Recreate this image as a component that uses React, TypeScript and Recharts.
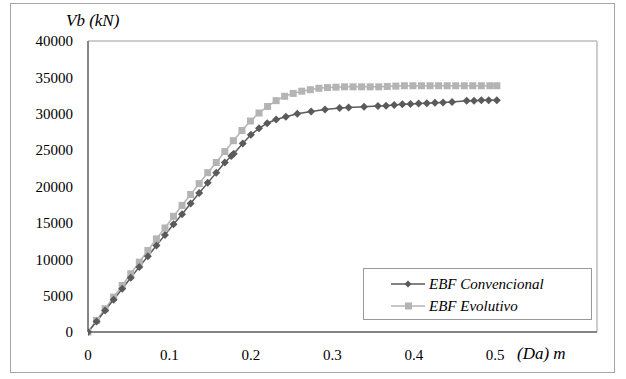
import { Legend, Line, LineChart, ReferenceLine, XAxis, YAxis } from 'recharts'

// displacement (m) and base shear (kN) for each frame
const convX = [
  0, 0.0105, 0.021, 0.0315, 0.042, 0.0525, 0.063, 0.0735, 0.084, 0.0945, 0.105, 0.1155, 0.126, 0.1365,
  0.147, 0.1575, 0.168, 0.176, 0.179, 0.19, 0.2, 0.21, 0.22, 0.231, 0.243, 0.257, 0.274, 0.291, 0.309,
  0.32, 0.339, 0.356, 0.366, 0.376, 0.386, 0.396, 0.406, 0.416, 0.426, 0.436, 0.447, 0.465, 0.474, 0.483,
  0.492, 0.502,
]
const convV = [
  0, 1450, 2950, 4450, 5950, 7450, 8950, 10400, 11900, 13350, 14800, 16200, 17650, 19100, 20500, 21900,
  23300, 24200, 24500, 25900, 27100, 28000, 28700, 29200, 29600, 30000, 30300, 30600, 30800, 30850, 30950,
  31050, 31100, 31200, 31300, 31350, 31400, 31450, 31500, 31550, 31600, 31800, 31800, 31850, 31850, 31850,
]
const evolX = [
  0, 0.0105, 0.021, 0.0315, 0.042, 0.0525, 0.063, 0.0735, 0.084, 0.0945, 0.105, 0.1155, 0.126, 0.1365,
  0.147, 0.1575, 0.168, 0.1785, 0.189, 0.1995, 0.21, 0.2205, 0.231, 0.2415, 0.252, 0.2625, 0.273, 0.2835,
  0.294, 0.3045, 0.315, 0.3255, 0.336, 0.3465, 0.357, 0.3675, 0.378, 0.3885, 0.399, 0.4095, 0.42, 0.4305,
  0.441, 0.4515, 0.462, 0.4725, 0.483, 0.4935, 0.502,
]
const evolV = [
  0, 1600, 3200, 4800, 6400, 8000, 9600, 11200, 12800, 14300, 15900, 17400, 18900, 20400, 21900, 23300,
  24800, 26300, 27700, 29000, 30100, 31000, 31800, 32400, 32800, 33100, 33300, 33500, 33600, 33650, 33700,
  33700, 33700, 33700, 33700, 33750, 33800, 33850, 33850, 33850, 33850, 33850, 33850, 33850, 33850, 33850,
  33850, 33850, 33850,
]

const xTicks = [0, 0.1, 0.2, 0.3, 0.4, 0.5]
const yTicks = [0, 5000, 10000, 15000, 20000, 25000, 30000, 35000, 40000]

const convencional = convX.map((x, i) => ({ x, v: convV[i] }))
const evolutivo = evolX.map((x, i) => ({ x, v: evolV[i] }))

const FONT = "'Liberation Serif', 'Times New Roman', serif"
const DARK = '#5a5a5a'
const LIGHT = '#b4b4b4'
const AXIS = '#858585'

const diamond = (cx: number, cy: number, r = 4) =>
  `${cx},${cy - r} ${cx + r},${cy} ${cx},${cy + r} ${cx - r},${cy}`

const DiamondDot = (p: any) => {
  const { cx, cy, index } = p
  if (cx == null || cy == null) return <g key={`d${index}`} />
  return <polygon key={`d${index}`} points={diamond(cx, cy)} fill={DARK} />
}

const SquareDot = (p: any) => {
  const { cx, cy, index } = p
  if (cx == null || cy == null) return <g key={`s${index}`} />
  return <rect key={`s${index}`} x={cx - 3.5} y={cy - 3.5} width={7} height={7} fill={LIGHT} />
}

const LegendRow = ({ label, color, square }: { label: string; color: string; square?: boolean }) => (
  <div style={{ display: 'flex', alignItems: 'center', height: 22 }}>
    <svg width={34} height={10} style={{ marginLeft: 27, marginRight: 4 }}>
      <line x1={0} y1={5} x2={34} y2={5} stroke={color} strokeWidth={1.5} />
      {square ? (
        <rect x={14} y={1.5} width={7} height={7} fill={color} />
      ) : (
        <polygon points={diamond(17, 5, 3.5)} fill={color} />
      )}
    </svg>
    <span>{label}</span>
  </div>
)

const LegendBox = () => (
  <div
    style={{
      width: 229,
      height: 52,
      boxSizing: 'border-box',
      border: '1px solid #9a9a9a',
      background: '#fff',
      fontFamily: FONT,
      fontStyle: 'italic',
      fontSize: 15,
      color: '#000',
      paddingTop: 4,
    }}
  >
    <LegendRow label="EBF Convencional" color={DARK} />
    <LegendRow label="EBF Evolutivo" color={LIGHT} square />
  </div>
)

export default function App() {
  return (
    <div
      style={{
        position: 'absolute',
        left: 0,
        top: 0,
        width: 626,
        height: 379,
        background: '#fff',
        fontFamily: FONT,
      }}
    >
      <LineChart width={626} height={379} margin={{ top: 41, right: 29, bottom: 0, left: 0 }}>
        <XAxis
          type="number"
          dataKey="x"
          domain={[0, 0.625]}
          ticks={xTicks}
          allowDataOverflow
          height={47}
          tickSize={0}
          tickMargin={17}
          stroke={AXIS}
          strokeWidth={2}
          tick={{ fill: '#000', fontSize: 15, fontFamily: FONT }}
        />
        <YAxis
          type="number"
          dataKey="v"
          domain={[0, 40000]}
          ticks={yTicks}
          width={88}
          tickSize={0}
          tickMargin={15}
          stroke={AXIS}
          strokeWidth={2}
          tick={{ fill: '#000', fontSize: 15, fontFamily: FONT }}
        />
        <ReferenceLine y={40000} stroke="#bdbdbd" strokeWidth={1.5} />
        <ReferenceLine x={0.625} stroke="#bdbdbd" strokeWidth={1.5} />
        <Legend
          layout="horizontal"
          verticalAlign="middle"
          align="center"
          content={<LegendBox />}
          wrapperStyle={{ left: 363, top: 268, width: 229, height: 52 }}
        />
        <Line
          data={evolutivo}
          dataKey="v"
          name="EBF Evolutivo"
          type="linear"
          stroke={LIGHT}
          strokeWidth={1.5}
          dot={SquareDot}
          activeDot={false}
          isAnimationActive={false}
        />
        <Line
          data={convencional}
          dataKey="v"
          name="EBF Convencional"
          type="linear"
          stroke={DARK}
          strokeWidth={1.5}
          dot={DiamondDot}
          activeDot={false}
          isAnimationActive={false}
        />
      </LineChart>
      <div style={{ position: 'absolute', left: 66, top: 11, fontStyle: 'italic', fontSize: 17 }}>Vb (kN)</div>
      <div style={{ position: 'absolute', left: 517, top: 344, fontStyle: 'italic', fontSize: 17 }}>(Da) m</div>
      <div
        style={{
          position: 'absolute',
          left: 10,
          top: 3,
          width: 603,
          height: 368,
          border: '1px solid #a6a6a6',
          pointerEvents: 'none',
        }}
      />
    </div>
  )
}
